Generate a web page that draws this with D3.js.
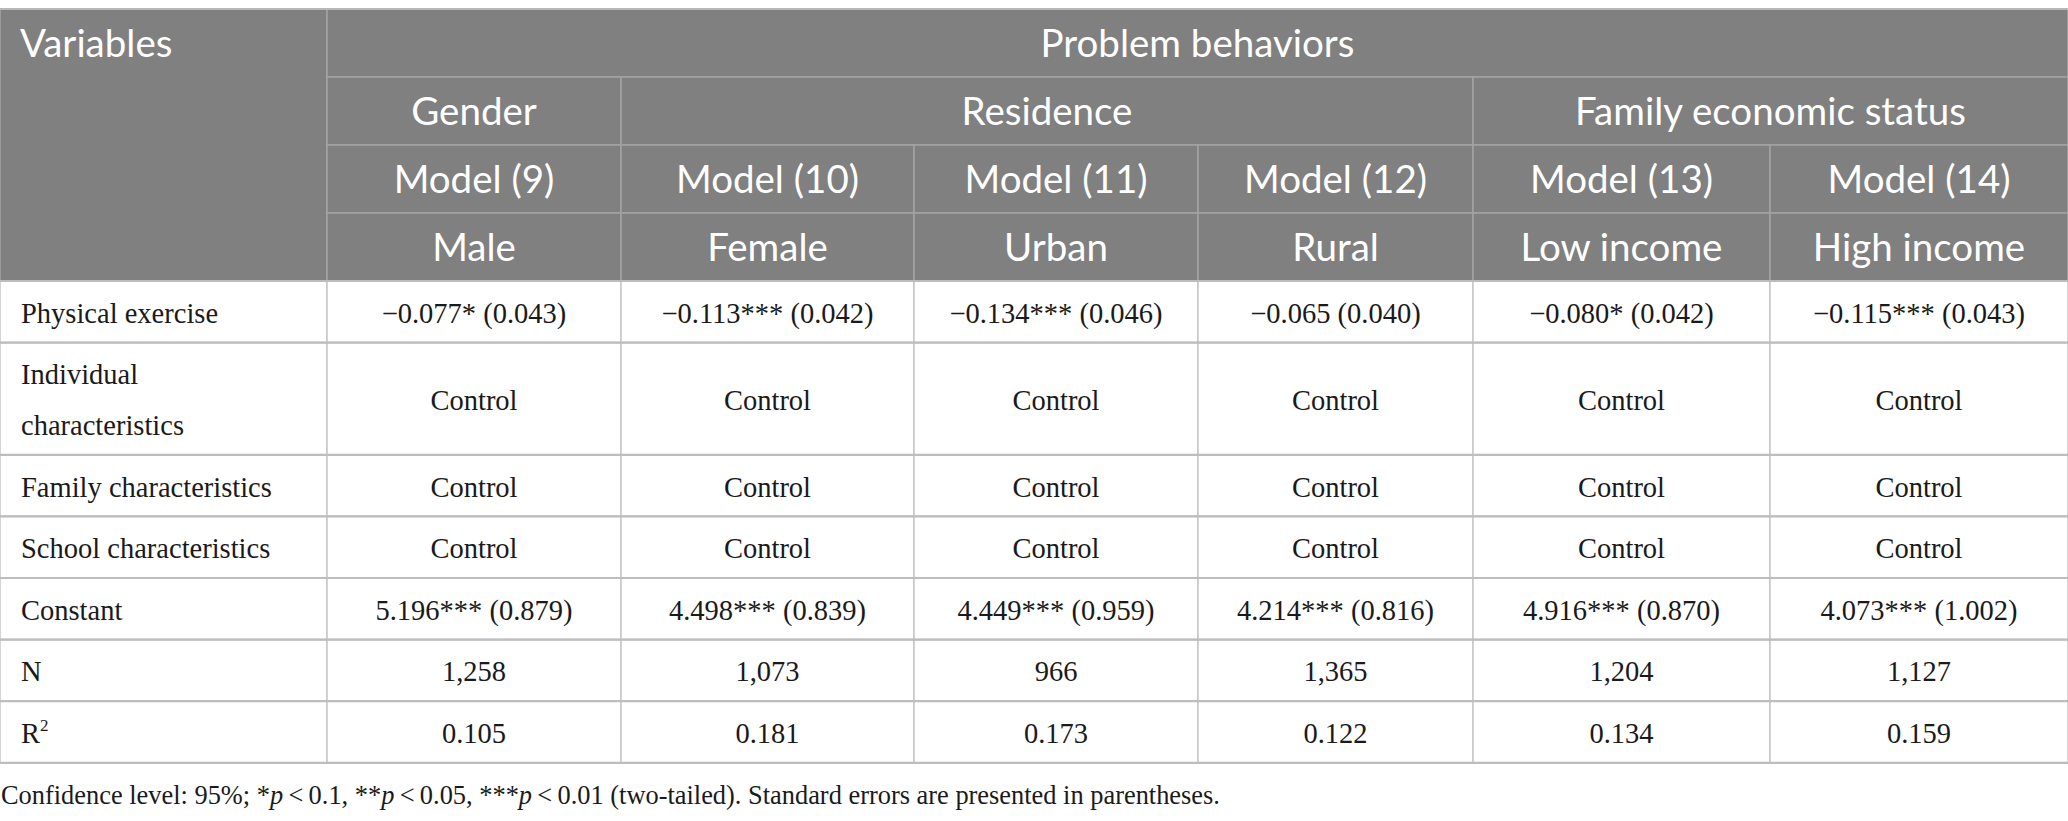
<!DOCTYPE html>
<html>
<head>
<meta charset="utf-8">
<script src="https://cdn.jsdelivr.net/npm/d3@7"></script>
<style>
  html, body { margin: 0; padding: 0; background: #fff; }
  svg { display: block; }
</style>
</head>
<body>
<svg class="table"></svg>
<script>
// データ
var topHeader = "Problem behaviors";
var groups = ["Gender", "Residence", "Family economic status"];
var groupSpans = [1, 3, 2];
var models = ["Model (9)", "Model (10)", "Model (11)", "Model (12)", "Model (13)", "Model (14)"];
var subgroups = ["Male", "Female", "Urban", "Rural", "Low income", "High income"];

var variables = [
  ["Physical exercise"],
  ["Individual", "characteristics"],
  ["Family characteristics"],
  ["School characteristics"],
  ["Constant"],
  ["N"],
  ["R", "2"]   // 上付き
];
var physicalExercise = ["\u22120.077* (0.043)", "\u22120.113*** (0.042)", "\u22120.134*** (0.046)",
                        "\u22120.065 (0.040)", "\u22120.080* (0.042)", "\u22120.115*** (0.043)"];
var individualChar = ["Control", "Control", "Control", "Control", "Control", "Control"];
var familyChar = ["Control", "Control", "Control", "Control", "Control", "Control"];
var schoolChar = ["Control", "Control", "Control", "Control", "Control", "Control"];
var constant = ["5.196*** (0.879)", "4.498*** (0.839)", "4.449*** (0.959)",
                "4.214*** (0.816)", "4.916*** (0.870)", "4.073*** (1.002)"];
var nObs = ["1,258", "1,073", "966", "1,365", "1,204", "1,127"];
var rSquared = ["0.105", "0.181", "0.173", "0.122", "0.134", "0.159"];
var bodyValues = [physicalExercise, individualChar, familyChar, schoolChar, constant, nObs, rSquared];

var footnote = [
  {t: "Confidence level: 95%; *"}, {t: "p", i: true}, {t: "\u2009<\u20090.1, **"}, {t: "p", i: true},
  {t: "\u2009<\u20090.05, ***"}, {t: "p", i: true},
  {t: "\u2009<\u20090.01 (two-tailed). Standard errors are presented in parentheses."}
];

// レイアウト
var width = 2068, height = 821;
var colWidths = [327, 294, 293, 284, 275, 297, 298];
var tableTop = 9;
var headRowH = 68;
var lineH = 50.6, cellPad = 5.5;
var headFill = "#808080";

var colEdges = [0];
colWidths.forEach(function(w) { colEdges.push(colEdges[colEdges.length - 1] + w); });
var x = d3.scaleOrdinal().domain(d3.range(colEdges.length)).range(colEdges);

var svg = d3.select("svg.table")
    .attr("width", width)
    .attr("height", height);

///////////////
// ヘッダー
///////////////
var headTop = tableTop;
var headCells = [];
headCells.push({c0: 0, c1: 1, r0: 0, r1: 4, text: "Variables", anchor: "start"});
headCells.push({c0: 1, c1: 7, r0: 0, r1: 1, text: topHeader});
var c = 1;
groups.forEach(function(g, i) {
  headCells.push({c0: c, c1: c + groupSpans[i], r0: 1, r1: 2, text: g});
  c += groupSpans[i];
});
models.forEach(function(m, i) { headCells.push({c0: i + 1, c1: i + 2, r0: 2, r1: 3, text: m}); });
subgroups.forEach(function(s, i) { headCells.push({c0: i + 1, c1: i + 2, r0: 3, r1: 4, text: s}); });

var headG = svg.append("g").attr("class", "head");
headG.selectAll("rect")
    .data(headCells)
  .enter().append("rect")
    .attr("x", function(d) { return x(d.c0); })
    .attr("y", function(d) { return headTop + d.r0 * headRowH; })
    .attr("width", function(d) { return x(d.c1) - x(d.c0); })
    .attr("height", function(d) { return (d.r1 - d.r0) * headRowH; })
    .attr("fill", headFill)
    .attr("stroke", "#a4a4a4")
    .attr("stroke-width", 1.5);

headG.selectAll("text")
    .data(headCells)
  .enter().append("text")
    .attr("x", function(d) { return d.anchor === "start" ? x(d.c0) + 20 : (x(d.c0) + x(d.c1)) / 2; })
    .attr("y", function(d) { return headTop + d.r0 * headRowH + headRowH / 2 + 13.8; })
    .attr("text-anchor", function(d) { return d.anchor || "middle"; })
    .attr("font-family", "Lato, 'Open Sans', sans-serif")
    .attr("font-size", 38.5)
    .attr("fill", "#fff")
    .text(function(d) { return d.text; });

///////////////
// 本体
///////////////
var bodyTop = headTop + 4 * headRowH;
var rowLines = variables.map(function(v, i) { return i === 1 ? 2 : 1; });
var rowY = [bodyTop];
rowLines.forEach(function(n) { rowY.push(rowY[rowY.length - 1] + cellPad * 2 + n * lineH); });

var bodyG = svg.append("g").attr("class", "body");
var rows = bodyG.selectAll("g.row")
    .data(variables)
  .enter().append("g")
    .attr("class", "row");

// セル
rows.each(function(v, ri) {
  var g = d3.select(this);
  var y0 = rowY[ri], y1 = rowY[ri + 1];
  var cy = (y0 + y1) / 2;
  var cells = [{col: 0, value: v}].concat(bodyValues[ri].map(function(val, j) { return {col: j + 1, value: val}; }));

  g.selectAll("rect")
      .data(cells)
    .enter().append("rect")
      .attr("x", function(d) { return x(d.col); })
      .attr("y", y0)
      .attr("width", function(d) { return x(d.col + 1) - x(d.col); })
      .attr("height", y1 - y0)
      .attr("fill", "#fff")
      .attr("stroke", "#c6c6c6")
      .attr("stroke-width", 1.5);

  // 変数名
  var label = g.append("text")
      .attr("x", x(0) + 21)
      .attr("font-family", "'Liberation Serif', 'Times New Roman', serif")
      .attr("font-size", 28.5)
      .attr("fill", "#1a1a1a");
  if (ri === variables.length - 1) {
    label.attr("y", cy + 11);
    label.append("tspan").text(v[0]);
    label.append("tspan").attr("font-size", 17).attr("dy", -12).text(v[1]);
  } else {
    v.forEach(function(line, li) {
      label.append("tspan")
          .attr("x", x(0) + 21)
          .attr("y", cy + 11 + (li - (v.length - 1) / 2) * lineH)
          .text(line);
    });
  }

  // 値
  g.selectAll("text.val")
      .data(cells.slice(1))
    .enter().append("text")
      .attr("class", "val")
      .attr("x", function(d) { return (x(d.col) + x(d.col + 1)) / 2; })
      .attr("y", cy + 11)
      .attr("text-anchor", "middle")
      .attr("font-family", "'Liberation Serif', 'Times New Roman', serif")
      .attr("font-size", 28.5)
      .attr("fill", "#1a1a1a")
      .text(function(d) { return d.value; });
});

// 横線を少し太く
bodyG.selectAll("line.hline")
    .data(rowY)
  .enter().append("line")
    .attr("class", "hline")
    .attr("x1", 0).attr("x2", width)
    .attr("y1", function(d) { return d; })
    .attr("y2", function(d) { return d; })
    .attr("stroke", "#bdbdbd")
    .attr("stroke-width", 2.2);

// 表の上端
svg.append("line")
    .attr("x1", 0).attr("x2", width)
    .attr("y1", tableTop).attr("y2", tableTop)
    .attr("stroke", "#b8b8b8")
    .attr("stroke-width", 2);

///////////////
// 注釈
///////////////
var note = svg.append("text")
    .attr("x", 1)
    .attr("y", rowY[rowY.length - 1] + 41)
    .attr("font-family", "'Liberation Serif', 'Times New Roman', serif")
    .attr("font-size", 26.4)
    .attr("fill", "#1a1a1a");
note.selectAll("tspan")
    .data(footnote)
  .enter().append("tspan")
    .attr("font-style", function(d) { return d.i ? "italic" : null; })
    .text(function(d) { return d.t; });
</script>
</body>
</html>
